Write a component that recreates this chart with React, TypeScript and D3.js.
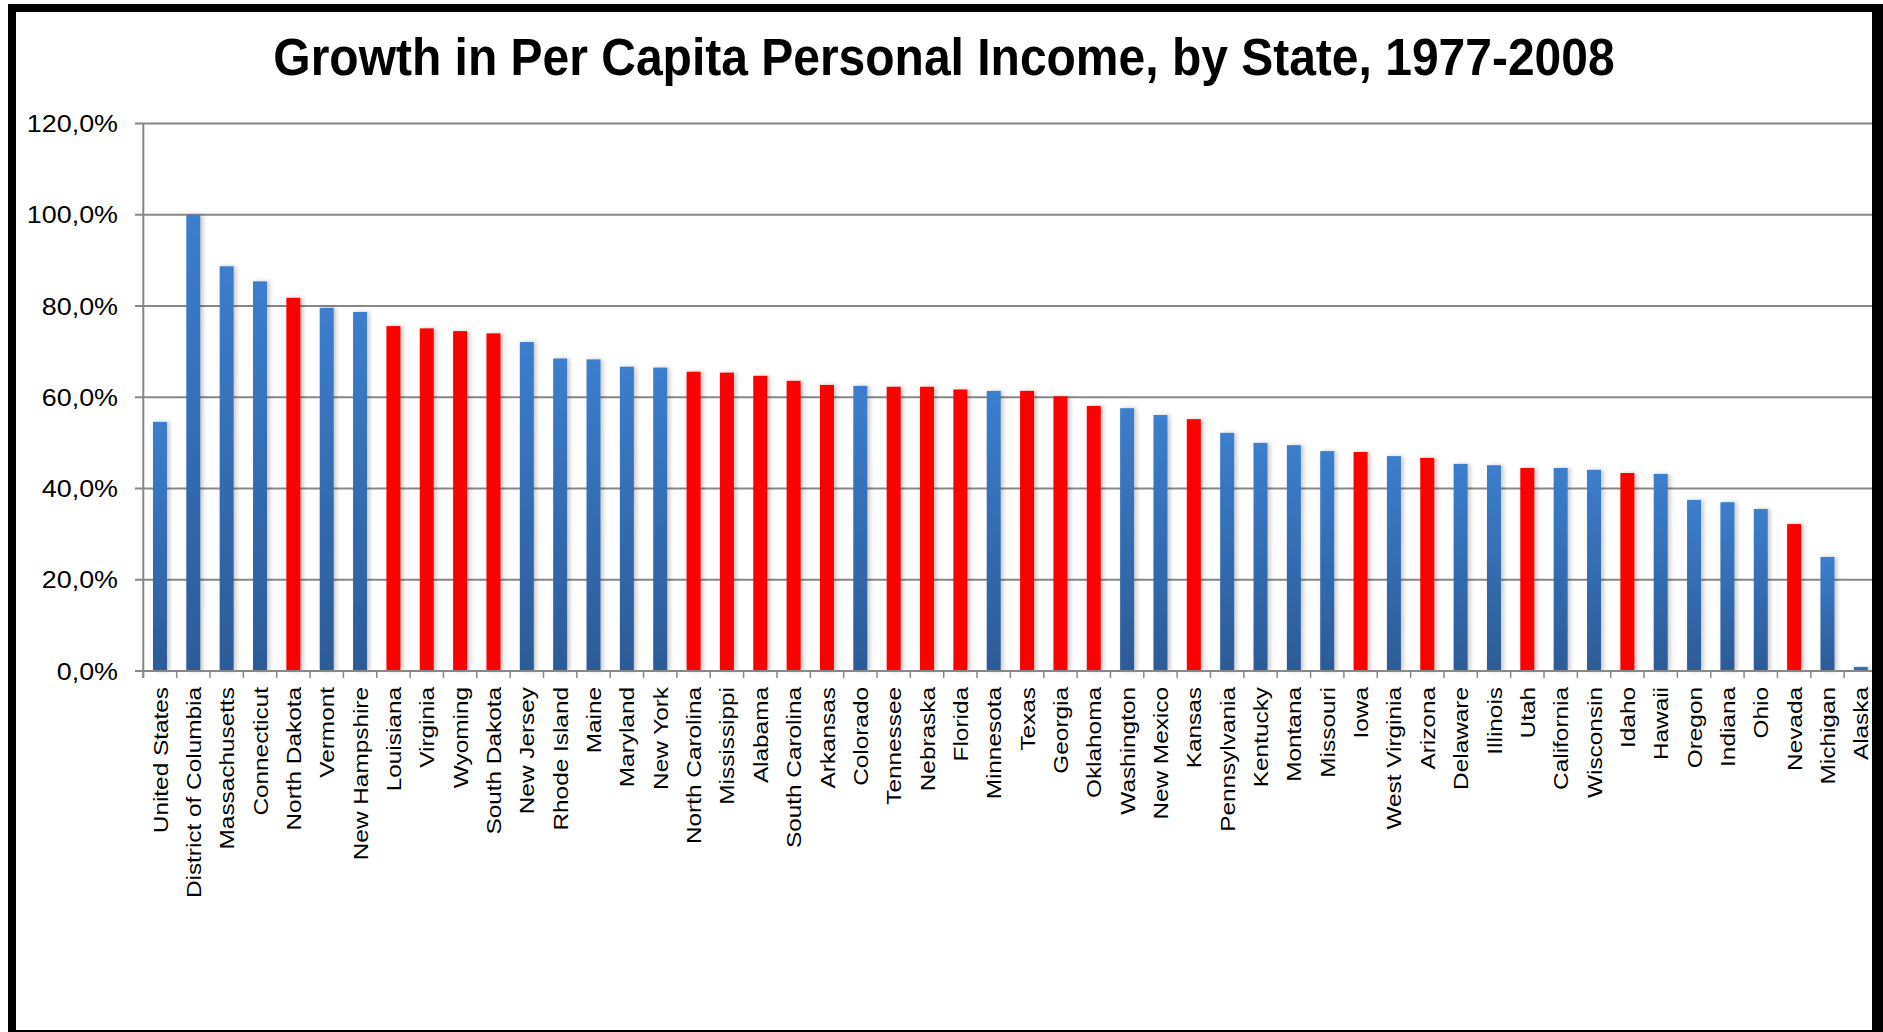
import React from "react";
import * as d3 from "d3";

const TITLE = "Growth in Per Capita Personal Income, by State, 1977-2008";

const states = [
  "United States", "District of Columbia", "Massachusetts", "Connecticut", "North Dakota",
  "Vermont", "New Hampshire", "Louisiana", "Virginia", "Wyoming", "South Dakota",
  "New Jersey", "Rhode Island", "Maine", "Maryland", "New York", "North Carolina",
  "Mississippi", "Alabama", "South Carolina", "Arkansas", "Colorado", "Tennessee",
  "Nebraska", "Florida", "Minnesota", "Texas", "Georgia", "Oklahoma", "Washington",
  "New Mexico", "Kansas", "Pennsylvania", "Kentucky", "Montana", "Missouri", "Iowa",
  "West Virginia", "Arizona", "Delaware", "Illinois", "Utah", "California", "Wisconsin",
  "Idaho", "Hawaii", "Oregon", "Indiana", "Ohio", "Nevada", "Michigan", "Alaska",
];

const growth = [
  54.6, 100.0, 88.7, 85.4, 81.8, 79.6, 78.7, 75.6, 75.1, 74.5, 74.0,
  72.1, 68.5, 68.3, 66.7, 66.5, 65.6, 65.4, 64.7, 63.6, 62.7, 62.5,
  62.3, 62.3, 61.7, 61.4, 61.4, 60.2, 58.1, 57.6, 56.1, 55.2, 52.2,
  50.0, 49.5, 48.2, 48.0, 47.1, 46.7, 45.4, 45.1, 44.5, 44.5, 44.1,
  43.4, 43.2, 37.5, 37.0, 35.5, 32.2, 25.0, 0.9,
];

const redStates = [
  "North Dakota", "Louisiana", "Virginia", "Wyoming", "South Dakota", "North Carolina",
  "Mississippi", "Alabama", "South Carolina", "Arkansas", "Tennessee", "Nebraska",
  "Florida", "Texas", "Georgia", "Oklahoma", "Kansas", "Iowa", "Arizona", "Utah",
  "Idaho", "Nevada",
];

const yTicks = [0, 20, 40, 60, 80, 100, 120];

const FONT = "'Liberation Sans', Arial, Helvetica, sans-serif";

export default function App() {
  const W = 1883;
  const H = 1032;
  const x0 = 143.3;
  const step = 33.35;
  const pad = 0.58;
  const x = d3
    .scaleBand<string>()
    .domain(states)
    .range([x0, x0 + step * states.length])
    .paddingInner(pad)
    .paddingOuter(pad / 2);
  const y = d3.scaleLinear().domain([0, 120]).range([671, 123.5]);
  const fmt = (v: number) => d3.format(".1f")(v).replace(".", ",") + "%";
  const gridColor = "#878787";
  const bw = x.bandwidth();
  const offs = (x.step() * pad) / 2;

  return (
    <svg
      width={W}
      height={H}
      style={{ position: "absolute", left: 0, top: 0, background: "#fff" }}
    >
      <defs>
        <linearGradient id="blueGrad" x1="0" y1="0" x2="0" y2="1">
          <stop offset="0%" stopColor="#3C7ECD" />
          <stop offset="100%" stopColor="#2C5B96" />
        </linearGradient>
        <filter id="shadow" x="-60%" y="-5%" width="220%" height="110%">
          <feDropShadow dx="2.5" dy="0" stdDeviation="2.2" floodColor="#000" floodOpacity="0.22" />
        </filter>
      </defs>
      <rect x={0} y={0} width={W} height={H} fill="#fff" />

      {/* gridlines */}
      {yTicks.map((t) => (
        <line
          key={"g" + t}
          x1={135}
          x2={W}
          y1={y(t)}
          y2={y(t)}
          stroke={gridColor}
          strokeWidth={2}
        />
      ))}

      {/* bars */}
      {states.map((s, i) => {
        const isRed = redStates.includes(s);
        return (
          <rect
            key={s}
            x={x(s)}
            y={y(growth[i])}
            width={bw}
            height={y(0) - y(growth[i])}
            fill={isRed ? "#FF0000" : "url(#blueGrad)"}
            filter="url(#shadow)"
          />
        );
      })}

      {/* y axis line */}
      <line x1={x0} x2={x0} y1={y(120)} y2={y(0) + 7} stroke={gridColor} strokeWidth={2} />
      {/* baseline */}
      <line x1={135} x2={W} y1={y(0)} y2={y(0)} stroke={gridColor} strokeWidth={2} />
      {/* category ticks */}
      {states.map((s) => (
        <line
          key={"t" + s}
          x1={(x(s) as number) - offs}
          x2={(x(s) as number) - offs}
          y1={y(0)}
          y2={y(0) + 7}
          stroke={gridColor}
          strokeWidth={1.5}
        />
      ))}

      {/* y tick labels */}
      {yTicks.map((t) => (
        <text
          key={"yl" + t}
          transform={`translate(118,${y(t)}) scale(1.12,1)`}
          textAnchor="end"
          dy="0.36em"
          fontFamily={FONT}
          fontSize={24}
          fill="#000"
        >
          {fmt(t)}
        </text>
      ))}

      {/* category labels */}
      {states.map((s) => (
        <text
          key={"cl" + s}
          transform={`translate(${(x(s) as number) + bw / 2},687) rotate(-90) scale(1.16,1)`}
          textAnchor="end"
          dy="0.36em"
          fontFamily={FONT}
          fontSize={21}
          fill="#000"
        >
          {s}
        </text>
      ))}

      {/* title */}
      <text
        transform="translate(944,75) scale(1,1.08)"
        textAnchor="middle"
        fontFamily={FONT}
        fontWeight="bold"
        fontSize={48}
        fill="#000"
      >
        {TITLE}
      </text>

      {/* frame */}
      <rect x={8} y={4} width={W - 8} height={8} fill="#000" />
      <rect x={8} y={4} width={8} height={H - 4} fill="#000" />
      <rect x={1872} y={4} width={W - 1872} height={H - 4} fill="#000" />
      <rect x={8} y={1030} width={W - 8} height={2} fill="#000" />
    </svg>
  );
}
